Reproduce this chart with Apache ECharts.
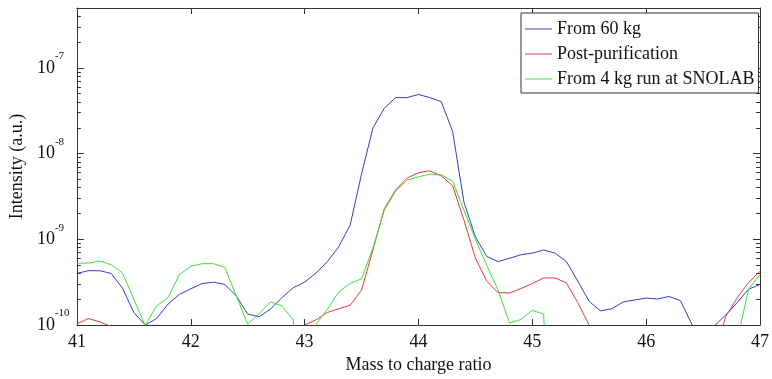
<!DOCTYPE html>
<html>
<head>
<meta charset="utf-8">
<script src="https://cdn.jsdelivr.net/npm/echarts@6/dist/echarts.min.js"></script>
<style>
  html, body { margin: 0; padding: 0; background: #fff; }
  #chart { width: 772px; height: 379px; }
</style>
</head>
<body>
<div id="chart"></div>
<script>
// m/z sample positions (0.1 step)
const massValues = [
  41.0, 41.1, 41.2, 41.3, 41.4, 41.5, 41.6, 41.7, 41.8, 41.9,
  42.0, 42.1, 42.2, 42.3, 42.4, 42.5, 42.6, 42.7, 42.8, 42.9,
  43.0, 43.1, 43.2, 43.3, 43.4, 43.5, 43.6, 43.7, 43.8, 43.9,
  44.0, 44.1, 44.2, 44.3, 44.4, 44.5, 44.6, 44.7, 44.8, 44.9,
  45.0, 45.1, 45.2, 45.3, 45.4, 45.5, 45.6, 45.7, 45.8, 45.9,
  46.0, 46.1, 46.2, 46.3, 46.4, 46.5, 46.6, 46.7, 46.8, 46.9,
  47.0
];

const from60kg = [
  4.0e-10, 4.3e-10, 4.3e-10, 4.0e-10, 2.7e-10, 1.4e-10, 1.0e-10, 1.19e-10, 1.75e-10, 2.28e-10,
  2.64e-10, 3.05e-10, 3.16e-10, 2.97e-10, 2.18e-10, 1.34e-10, 1.25e-10, 1.53e-10, 2.08e-10, 2.72e-10,
  3.16e-10, 4.04e-10, 5.5e-10, 8.2e-10, 1.46e-9, 5.76e-9, 1.99e-8, 3.39e-8, 4.5e-8, 4.5e-8,
  4.9e-8, 4.5e-8, 4.04e-8, 1.82e-8, 2.7e-9, 1.07e-9, 6.3e-10, 5.5e-10, 6.0e-10, 6.6e-10,
  6.9e-10, 7.5e-10, 6.9e-10, 5.5e-10, 3.24e-10, 1.88e-10, 1.46e-10, 1.55e-10, 1.86e-10, 1.96e-10,
  2.06e-10, 2.01e-10, 2.15e-10, 1.93e-10, 1.03e-10, 7.0e-11, 0.98e-10, 1.31e-10, 1.83e-10, 2.62e-10,
  2.97e-10
];

const postPurification = [
  1.03e-10, 1.19e-10, 1.09e-10, 0.96e-10, 6e-11, 6e-11, 6e-11, 6e-11, 6e-11, 6e-11,
  6e-11, 6e-11, 6e-11, 6e-11, 6e-11, 6e-11, 6e-11, 6e-11, 6e-11, 6e-11,
  1.0e-10, 1.15e-10, 1.40e-10, 1.55e-10, 1.70e-10, 2.55e-10, 7.5e-10, 2.27e-9, 3.77e-9, 5.17e-9,
  6.0e-9, 6.3e-9, 5.5e-9, 4.23e-9, 1.67e-9, 6.05e-10, 3.24e-10, 2.39e-10, 2.36e-10, 2.66e-10,
  3.05e-10, 3.54e-10, 3.54e-10, 3.1e-10, 1.82e-10, 0.99e-10, 6e-11, 6e-11, 6e-11, 6e-11,
  6e-11, 6e-11, 6e-11, 6e-11, 6e-11, 6e-11, 4.7e-11, 1.26e-10, 2.08e-10, 3.13e-10,
  4.23e-10
];

const snolab4kg = [
  5.27e-10, 5.27e-10, 5.6e-10, 5.05e-10, 4.05e-10, 2.0e-10, 0.99e-10, 1.67e-10, 2.08e-10, 3.87e-10,
  4.83e-10, 5.19e-10, 5.19e-10, 4.7e-10, 2.18e-10, 1.02e-10, 1.35e-10, 1.86e-10, 1.67e-10, 1.15e-10,
  1e-13, 1.02e-10, 1.53e-10, 2.42e-10, 3.05e-10, 3.46e-10, 7.9e-10, 2.18e-9, 3.64e-9, 4.9e-9,
  5.35e-9, 5.76e-9, 5.64e-9, 4.78e-9, 2.18e-9, 1.0e-9, 4.96e-10, 2.55e-10, 1.05e-10, 1.16e-10,
  1.48e-10, 1.34e-10, 1e-13, 5e-11, 5e-11, 5e-11, 5e-11, 5e-11, 5e-11, 5e-11,
  5e-11, 5e-11, 5e-11, 5e-11, 5e-11, 5e-11, 5e-11, 5e-11, 6.6e-11, 2.62e-10,
  3.87e-10
];

const seriesNames = ['From 60 kg', 'Post-purification', 'From 4 kg run at SNOLAB'];
const seriesColors = ['#3a3ac4', '#e03a3a', '#3ae03a'];

const xTicks = [41, 42, 43, 44, 45, 46, 47];
const yMin = 1e-10;
const yMax = 5e-7;
const majorTicks = [1e-10, 1e-9, 1e-8, 1e-7];
const minorTicks = [];
majorTicks.forEach((d) => {
  for (let m = 2; m <= 9; m++) {
    if (m * d <= yMax * 1.0001) minorTicks.push(m * d);
  }
});

const font = "'Liberation Serif', 'DejaVu Serif', serif";
const textColor = '#111';
const axisColor = '#333';

const chart = echarts.init(document.getElementById('chart'), null, { renderer: 'canvas' });

const pairs = (ys) => massValues.map((x, i) => [x, ys[i]]);

const xAxisBase = (position, showLabel) => ({
  type: 'value',
  position,
  min: xTicks[0],
  max: xTicks[xTicks.length - 1],
  interval: 1,
  axisLine: { show: true, onZero: false, lineStyle: { color: axisColor, width: 1 } },
  axisTick: { show: true, inside: true, length: 6, lineStyle: { color: axisColor } },
  axisLabel: {
    show: showLabel,
    margin: 8,
    fontFamily: font,
    fontSize: 18,
    color: textColor
  },
  splitLine: { show: false }
});

const logAxisBase = (position, ticks, len, showLine) => ({
  type: 'log',
  logBase: 10,
  position,
  min: yMin,
  max: yMax,
  axisLine: { show: showLine, lineStyle: { color: axisColor, width: 1 } },
  axisTick: {
    show: true,
    inside: true,
    length: len,
    customValues: ticks,
    lineStyle: { color: axisColor }
  },
  axisLabel: { show: false },
  splitLine: { show: false },
  minorTick: { show: false },
  minorSplitLine: { show: false }
});

const yMain = logAxisBase('left', majorTicks, 7, true);
yMain.name = 'Intensity (a.u.)';
yMain.nameLocation = 'middle';
yMain.nameGap = 42;
yMain.nameRotate = 90;
yMain.nameTextStyle = { fontFamily: font, fontSize: 18, color: textColor };
yMain.axisLabel = {
  show: true,
  customValues: majorTicks,
  align: 'left',
  margin: 40,
  formatter: (v) => '{b|10}{s|' + Math.round(Math.log10(v)) + '}',
  rich: {
    b: { fontFamily: font, fontSize: 18, lineHeight: 34, color: textColor },
    s: { fontFamily: font, fontSize: 11, lineHeight: 11, verticalAlign: 'top', color: textColor }
  }
};

const xMain = xAxisBase('bottom', true);
xMain.name = 'Mass to charge ratio';
xMain.nameLocation = 'middle';
xMain.nameGap = 31;
xMain.nameTextStyle = { fontFamily: font, fontSize: 18, color: textColor };

const option = {
  animation: false,
  backgroundColor: '#fff',
  grid: { left: 70, right: 9, top: 8, bottom: 50, containLabel: false },
  legend: {
    data: seriesNames.map((name) => ({ name, icon: 'rect' })),
    orient: 'vertical',
    left: 521,
    top: 13,
    itemWidth: 27,
    itemHeight: 1,
    itemGap: 5,
    padding: [6, 4, 4, 4],
    borderColor: axisColor,
    borderWidth: 1,
    backgroundColor: '#fff',
    textStyle: { fontFamily: font, fontSize: 18, lineHeight: 20, color: textColor }
  },
  xAxis: [xMain, xAxisBase('top', false)],
  yAxis: [
    yMain,
    logAxisBase('right', majorTicks, 7, true),
    logAxisBase('left', minorTicks, 4, false),
    logAxisBase('right', minorTicks, 4, false)
  ],
  series: [from60kg, postPurification, snolab4kg].map((ys, i) => ({
    name: seriesNames[i],
    type: 'line',
    xAxisIndex: 0,
    yAxisIndex: 0,
    data: pairs(ys),
    symbol: 'none',
    clip: true,
    color: seriesColors[i],
    lineStyle: { color: seriesColors[i], width: 1 }
  }))
};

chart.setOption(option);
</script>
</body>
</html>
